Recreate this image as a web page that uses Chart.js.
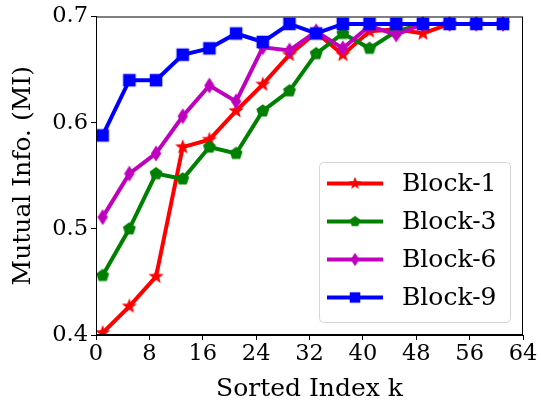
<!DOCTYPE html>
<html><head><meta charset="utf-8">
<script src="https://cdn.jsdelivr.net/npm/chart.js@4"></script>
<style>html,body{margin:0;padding:0;background:#fff}</style>
</head><body>
<canvas id="c" width="541" height="402"></canvas>
<script>
const ks = [1,5,9,13,17,21,25,29,33,37,41,45,49,53,57,61];
const block1 = [0.402,0.427,0.455,0.577,0.584,0.611,0.636,0.664,0.685,0.664,0.686,0.688,0.684,0.693,0.693,0.693];
const block3 = [0.456,0.500,0.552,0.547,0.577,0.571,0.611,0.630,0.665,0.684,0.670,0.686,0.693,0.693,0.693,0.693];
const block6 = [0.511,0.552,0.571,0.606,0.635,0.620,0.671,0.668,0.686,0.670,0.691,0.683,0.693,0.693,0.693,0.693];
const block9 = [0.588,0.640,0.640,0.664,0.670,0.684,0.676,0.693,0.684,0.693,0.693,0.693,0.693,0.693,0.693,0.693];
const seriesNames = ['Block-1','Block-3','Block-6','Block-9'];
const xTicks = [0,8,16,24,32,40,48,56,64];
const yTicks = [0.4,0.5,0.6,0.7];

const FONT = "'DejaVu Serif', serif";

function marker(type, color) {
  const S = 18;
  const c = document.createElement('canvas');
  c.width = S; c.height = S;
  const g = c.getContext('2d');
  g.fillStyle = color;
  g.translate(S/2, S/2);
  g.beginPath();
  if (type === 'star') {
    const R = 8, r = R*0.42;
    for (let i = 0; i < 10; i++) {
      const rad = i % 2 === 0 ? R : r;
      const a = -Math.PI/2 + i*Math.PI/5;
      g.lineTo(rad*Math.cos(a), rad*Math.sin(a));
    }
  } else if (type === 'pent') {
    const R = 6.8;
    for (let i = 0; i < 5; i++) {
      const a = -Math.PI/2 + i*2*Math.PI/5;
      g.lineTo(R*Math.cos(a), R*Math.sin(a));
    }
  } else if (type === 'diam') {
    g.moveTo(0,-8); g.lineTo(5.2,0); g.lineTo(0,8); g.lineTo(-5.2,0);
  } else {
    g.rect(-6.3,-6.3,12.6,12.6);
  }
  g.closePath();
  g.fill();
  return c;
}

const colors = ['#ff0000','#008000','#bf00bf','#0000ff'];
const types = ['star','pent','diam','sq'];
const values = [block1, block3, block6, block9];
const markers = types.map((t,i)=>marker(t, colors[i]));

const datasets = values.map((v,i)=>({
  label: seriesNames[i],
  data: ks.map((k,j)=>({x:k, y:v[j]})),
  borderColor: colors[i],
  backgroundColor: colors[i],
  borderWidth: 4,
  pointStyle: markers[i],
  pointRadius: 6,
  order: 4 - i,
  tension: 0
}));

const frame = {
  id: 'frame',
  afterDatasetsDraw(chart) {
    const {ctx, chartArea:a} = chart;
    ctx.save();
    ctx.strokeStyle = '#000';
    ctx.lineWidth = 1;
    ctx.strokeRect(a.left+0.5, a.top+0.5, a.right-a.left-1, a.bottom-a.top-1);
    ctx.restore();
  },
  afterDraw(chart) {
    const {ctx} = chart;
    const bx = 319, by = 162, bw = 191, bh = 160, rr = 4;
    ctx.save();
    ctx.globalAlpha = 0.85;
    ctx.fillStyle = '#fff';
    ctx.beginPath();
    ctx.roundRect(bx, by, bw, bh, rr);
    ctx.fill();
    ctx.globalAlpha = 1;
    ctx.strokeStyle = '#d6d6d6';
    ctx.lineWidth = 1;
    ctx.beginPath();
    ctx.roundRect(bx+0.5, by+0.5, bw, bh, rr);
    ctx.stroke();
    const rowY = [183.5, 221.5, 259.5, 297.5];
    const ms = 15;
    for (let i = 0; i < 4; i++) {
      const y = rowY[i];
      ctx.strokeStyle = colors[i];
      ctx.lineWidth = 4;
      ctx.beginPath();
      ctx.moveTo(327, y); ctx.lineTo(383, y);
      ctx.stroke();
      ctx.drawImage(markers[i], 355 - ms/2, y - ms/2, ms, ms);
      ctx.fillStyle = '#000';
      ctx.font = '25px ' + FONT;
      ctx.textBaseline = 'middle';
      ctx.textAlign = 'left';
      ctx.fillText(seriesNames[i], 402, y + 1);
    }
    ctx.restore();
  }
};

new Chart(document.getElementById('c'), {
  type: 'line',
  data: { datasets },
  options: {
    responsive: false,
    animation: false,
    devicePixelRatio: 1,
    layout: { padding: { left: 0, right: 18, top: 15, bottom: 0 } },
    plugins: { legend: { display: false }, tooltip: { enabled: false } },
    scales: {
      x: {
        type: 'linear', min: 0, max: 64,
        afterBuildTicks(s){ s.ticks = xTicks.map(v=>({value:v})); },
        afterFit(s){ s.height = 67; },
        grid: { display: true, drawOnChartArea: false, drawTicks: true, tickLength: 5, color: '#000' },
        border: { display: true, color: '#000', width: 1 },
        ticks: { color: '#000', font: { family: FONT, size: 22.5 }, padding: 1, maxRotation: 0 },
        title: { display: true, text: 'Sorted Index k', color: '#000', font: { family: FONT, size: 25 }, padding: { top: 0, bottom: -2 } }
      },
      y: {
        type: 'linear', min: 0.4, max: 0.7,
        afterBuildTicks(s){ s.ticks = yTicks.map(v=>({value:v})); },
        afterFit(s){ s.width = 96; },
        grid: { display: true, drawOnChartArea: false, drawTicks: true, tickLength: 5, color: '#000' },
        border: { display: true, color: '#000', width: 1 },
        ticks: { color: '#000', font: { family: FONT, size: 22.5 }, padding: 3, callback: v => v.toFixed(1) },
        title: { display: true, text: 'Mutual Info. (MI)', color: '#000', font: { family: FONT, size: 25 }, padding: { top: 8, bottom: 0 } }
      }
    }
  },
  plugins: [frame]
});
</script>
</body></html>
